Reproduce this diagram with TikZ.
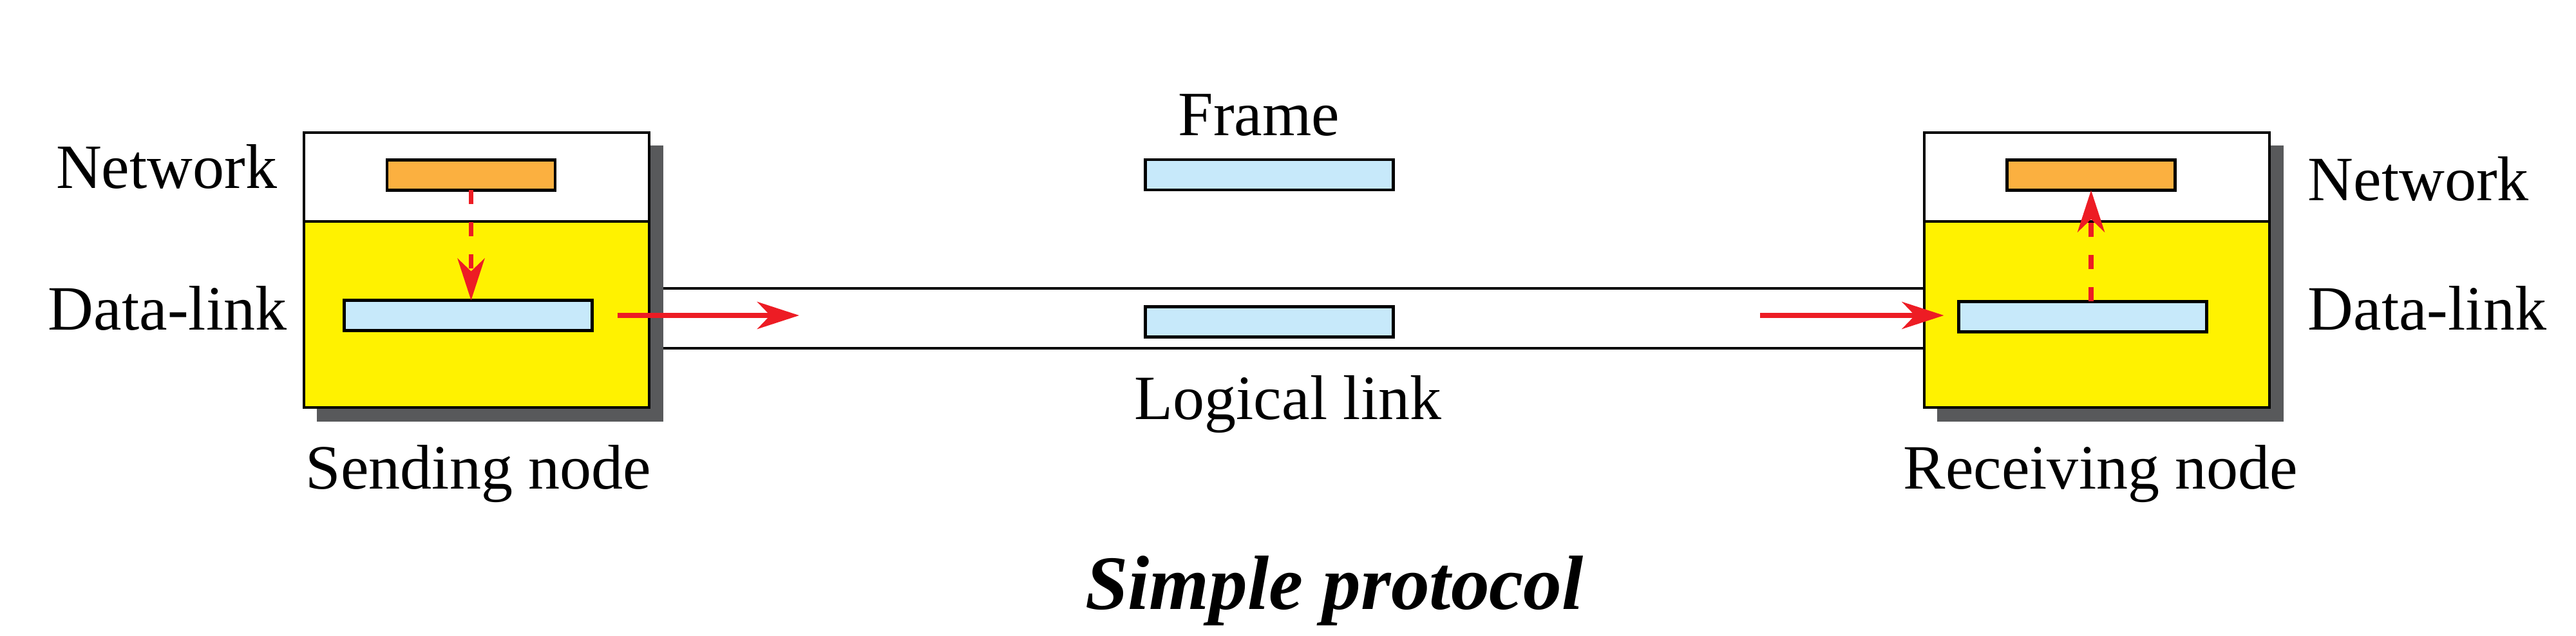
\documentclass[tikz,border=0pt]{standalone}
\usepackage{fontspec}
\setmainfont{Liberation Serif}
\usepackage{tikz}
\usetikzlibrary{
  arrows.meta,
  positioning,
  calc,
  backgrounds
}
\definecolor{layeryellow}{RGB}{255,242,0}
\definecolor{netorange}{RGB}{251,176,64}
\definecolor{frameblue}{RGB}{199,233,250}
\definecolor{arrowred}{RGB}{237,28,36}
\definecolor{shadowgray}{RGB}{88,89,91}
\tikzset{
  layerbox/.style={
    draw=black,
    line width=1.2pt,
    minimum width=53.6mm,
    inner sep=0pt,
    outer sep=0pt
  },
  netlayer/.style={layerbox,fill=white,minimum height=13.8mm},
  dllayer/.style={layerbox,fill=layeryellow,minimum height=28.9mm},
  packet/.style={draw=black,line width=1.2pt,minimum height=4.7mm,inner sep=0pt,outer sep=0pt},
  netpacket/.style={packet,fill=netorange,minimum width=26.1mm},
  framepacket/.style={packet,fill=frameblue,minimum width=38.5mm},
  labeltext/.style={font=\fontsize{27.9}{33}\selectfont,inner sep=0pt},
  titletext/.style={font=\fontsize{34}{40}\selectfont\bfseries\itshape,inner sep=0pt},
  sendarrow/.style={-{Stealth[length=6.5mm,width=4.2mm,inset=2mm]},line width=2.2pt,draw=arrowred},
  passarrow/.style={sendarrow,line width=2.1pt,dash pattern=on 2.2mm off 2.8mm},
  linkline/.style={line width=1.2pt,draw=black},
  shadowfill/.style={fill=shadowgray}
}

\begin{document}
\begin{tikzpicture}
  \useasboundingbox (0,0) rectangle (40,-9.88);

  % sending node
  \node[netlayer] (snet) at (7.40,-2.75) {};
  \node[dllayer,below=0pt of snet] (sdl) {};
  \node[netpacket] (spkt) at (7.315,-2.72) {};
  \node[framepacket] (sfrm) at (7.27,-4.90) {};
  \node[labeltext,anchor=base east] (snetlbl) at (4.31,-2.93) {Network};
  \node[labeltext,anchor=base east] (sdllbl) at (4.46,-5.13) {Data-link};
  \node[labeltext,anchor=base] (sname) at (7.43,-7.60) {Sending node};

  % receiving node
  \node[netlayer] (rnet) at (32.56,-2.75) {};
  \node[dllayer,below=0pt of rnet] (rdl) {};
  \node[netpacket] (rpkt) at (32.47,-2.72) {};
  \node[framepacket] (rfrm) at (32.34,-4.92) {};
  \node[labeltext,anchor=base west] (rnetlbl) at (35.83,-3.12) {Network};
  \node[labeltext,anchor=base west] (rdllbl) at (35.83,-5.13) {Data-link};
  \node[labeltext,anchor=base] (rname) at (32.62,-7.60) {Receiving node};

  \begin{scope}[on background layer]
    \fill[shadowfill] ($(snet.north west)+(0.2,-0.2)$) rectangle ($(sdl.south east)+(0.22,-0.22)$);
    \fill[shadowfill] ($(rnet.north west)+(0.2,-0.2)$) rectangle ($(rdl.south east)+(0.22,-0.22)$);
  \end{scope}

  % logical link
  \node[minimum width=195.5mm,minimum height=9.1mm,inner sep=0pt] (link) at (20.085,-4.945) {};
  \draw[linkline] (link.north west) -- (link.north east);
  \draw[linkline] (link.south west) -- (link.south east);
  \node[framepacket] (ffrm) at (19.71,-2.715) {};
  \node[framepacket] (lfrm) at (19.71,-5.00) {};
  \node[labeltext,anchor=base] (framelbl) at (19.55,-2.11) {Frame};
  \node[labeltext,anchor=base] (linklbl) at (20.0,-6.52) {Logical link};

  \coordinate (sout) at (12.41,-4.90);
  \coordinate (rin) at (27.33,-4.90);
  \draw[sendarrow] ($(sfrm.east)+(0.39,0)$) -- (sout);
  \draw[sendarrow] (rin) -- ($(rfrm.west)+(-0.23,0.02)$);
  \draw[passarrow] (spkt.south) -- (spkt.south |- sfrm.north);
  \draw[passarrow] (rpkt.south |- rfrm.north) -- (rpkt.south);

  \node[titletext,anchor=base] (title) at (20.72,-9.47) {Simple protocol};
\end{tikzpicture}
\end{document}
